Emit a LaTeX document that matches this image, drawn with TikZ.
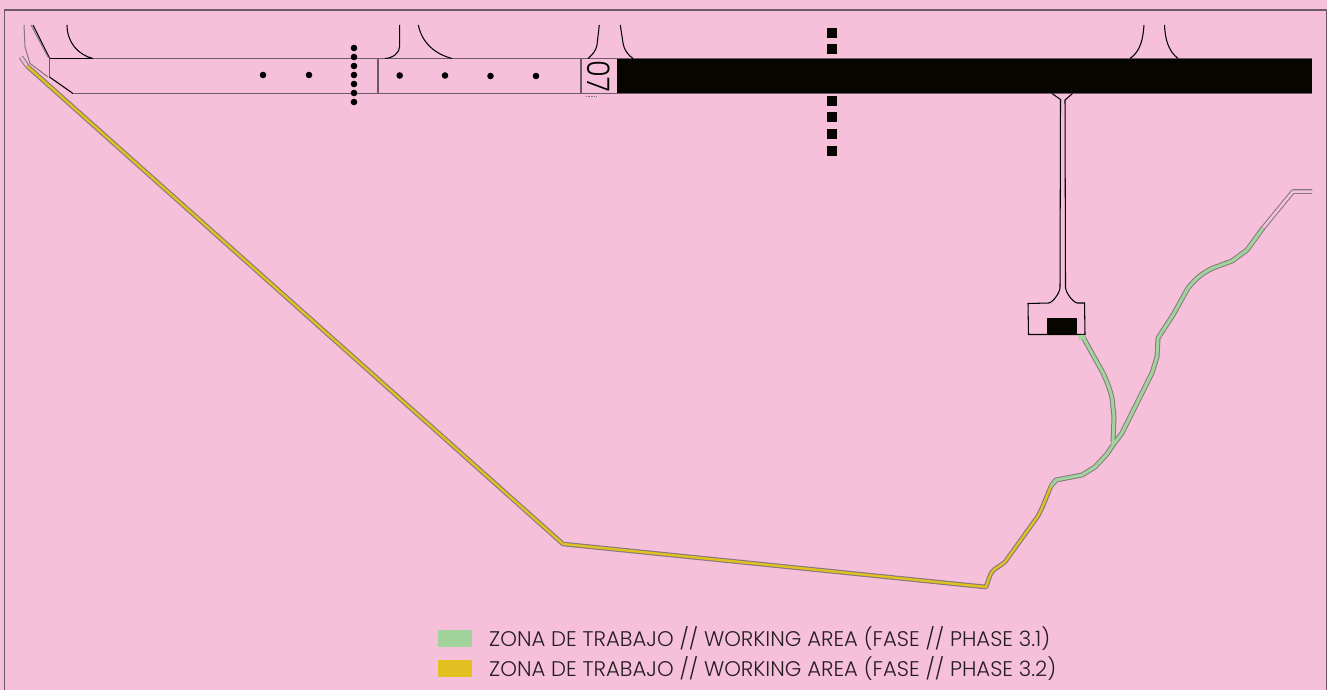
\documentclass[tikz,border=0pt]{standalone}
\usepackage{graphicx}
\usepackage{fontspec}
\setmainfont{Poppins Light}
\definecolor{bgpink}{HTML}{F7C0DA}
\definecolor{framec}{HTML}{6E5A66}
\definecolor{greenz}{HTML}{A3D39C}
\definecolor{yellowz}{HTML}{E3C022}
\definecolor{blackz}{HTML}{070500}
\definecolor{grayl}{HTML}{83797E}
\begin{document}
\begin{tikzpicture}[x=1pt,y=-1pt,
  thinline/.style={draw=black,line width=1.05pt},
  grayline/.style={draw=grayl,line width=1pt},
  edgeline/.style={draw=framec,line width=1.25pt},
  roadcasing/.style={draw=grayl,line width=4.6pt,line join=round},
  roadgreen/.style={draw=greenz,line width=3pt,line join=round},
  roadyellow/.style={draw=yellowz,line width=2.4pt,line join=round},
  roadgap/.style={draw=bgpink,line width=2.5pt,line join=round},
  lighta/.style={circle,fill=black,inner sep=0pt,minimum size=6.6pt},
  lightb/.style={rectangle,fill=blackz,inner sep=0pt,minimum size=10pt},
  legtext/.style={anchor=west,inner sep=0pt,text=black!85!bgpink,font=\fontsize{21.2pt}{22pt}\selectfont},
]
\useasboundingbox (0,0) rectangle (1327,690);
\fill[bgpink] (0,0) rectangle (1327,690);
\draw[edgeline] (4.7,691) -- (4.7,10) -- (1326.5,10) -- (1326.5,691);

% black runway
\fill[blackz] (617,58.5) rectangle (1312,93.5);
\draw[edgeline] (617,58.5) -- (1312,58.5);
\draw[edgeline] (617,93.5) -- (1312,93.5);
% runway outline
\draw[edgeline] (617,58.5) -- (49.5,58.5);
\draw[thinline] (49,58.5) -- (93,58.5);
\draw[draw=framec,line width=1.8pt] (49.5,58) -- (49.5,77);
\draw[thinline] (49.5,77) -- (73,93.5);
\draw[edgeline] (73,93.5) -- (617,93.5);
\draw[edgeline] (378,58.5) -- (378,93.5);
\draw[edgeline] (581,58.5) -- (581,93.5);
\node[rotate=-90,font=\fontsize{31pt}{31pt}\selectfont,inner sep=0pt,text=black] (rwy) at (599,76.3) {\scalebox{0.88}[1]{07}};
\draw[draw=grayl,line width=0.8pt,dash pattern=on 1pt off 0.6pt] (586,96) -- (597,96);

% shoulders top left
\draw[thinline] (33,25) -- (49.5,58);
\draw[grayline] (31,25) -- (48,57);
\draw[grayline] (24,25) -- (25,47) -- (30,63.5) -- (48,77);

% fillets
\draw[thinline] (67,25) .. controls (67,42) and (78,55) .. (93,58.5);
\draw[thinline] (399.7,25) -- (399.7,46) .. controls (399.7,53) and (393,58) .. (385,58.5);
\draw[thinline] (418.3,25) .. controls (422,43) and (435,54) .. (452,58.5);
\draw[thinline] (599.3,25) -- (597,45) .. controls (596,51) and (592,55) .. (588,58.5);
\draw[thinline] (620.3,25) -- (623,43) .. controls (624,50) and (628,55) .. (633,58.5);
\draw[thinline] (1144,25) .. controls (1143,38) and (1141,51) .. (1130,58.5);
\draw[thinline] (1164.5,25) .. controls (1165,38) and (1168,51) .. (1178,58.5);

% taxiway and apron
\draw[thinline] (1052,93.5) -- (1060.5,99.5) -- (1060,287) .. controls (1060,293) and (1053,302) .. (1049,303) -- (1028,303.5) -- (1028.5,334.5) -- (1085,334.5) -- (1084.5,303) -- (1077,303) .. controls (1073,302) and (1065.5,293) .. (1065.5,287) -- (1065,100) -- (1072.5,93.5);
\fill[blackz] (1047.3,318) rectangle (1076.5,334);

% lights
\foreach \n/\px/\py in {a/263/75,b/309/75,c/354/48,d/354/57,e/354/66,f/354/75,g/354/84,h/354/93,i/354/102,j/399.7/75.5,k/445/75.5,l/490.5/76,m/536/76}
  \node[lighta] (lamp\n) at (\px,\py) {};
\foreach \n/\py in {a/33,b/49.5,c/101,d/117.5,e/134,f/151}
  \node[lightb] (sq\n) at (831.7,\py) {};

% gray road ends
\draw[roadcasing] (1263,228) -- (1293,191.5) -- (1312,191.5);
\draw[roadgap] (1263,228) -- (1293,191.5) -- (1312,191.5);
\draw[roadcasing] (21,57) -- (27,66);
\draw[roadgap] (21,57) -- (27,66);

% road casing
\draw[roadcasing] (27,66) -- (563,544) -- (986,587) -- (989.5,577) .. controls (991,572) and (994,569) .. (998,567) -- (1005,562) -- (1038,516) -- (1042,508) -- (1051,486);
\draw[roadcasing,line width=5pt] (1051,486) -- (1056,480) -- (1082,475) -- (1095,467) -- (1107,454) -- (1113,445);
\draw[roadcasing,line width=5pt] (1081,337) -- (1083,337) -- (1103,373) .. controls (1108,384) and (1110,390) .. (1112,398) -- (1114,417) -- (1113,442);
\draw[roadcasing,line width=5pt] (1113,445) -- (1122,433) -- (1152,373) -- (1157,357) -- (1158,338) -- (1173,315) -- (1188,288) .. controls (1196,278) and (1204,272) .. (1213,268) -- (1232,261) -- (1247,250) -- (1263,228);
% fill
\draw[roadyellow] (27,66) -- (563,544) -- (986,587) -- (989.5,577) .. controls (991,572) and (994,569) .. (998,567) -- (1005,562) -- (1038,516) -- (1042,508) -- (1051,486);
\draw[roadgreen] (1051,486) -- (1056,480) -- (1082,475) -- (1095,467) -- (1107,454) -- (1113,445);
\draw[roadgreen] (1081,337) -- (1083,337) -- (1103,373) .. controls (1108,384) and (1110,390) .. (1112,398) -- (1114,417) -- (1113,442) -- (1113,445);
\draw[roadgreen] (1113,445) -- (1122,433) -- (1152,373) -- (1157,357) -- (1158,338) -- (1173,315) -- (1188,288) .. controls (1196,278) and (1204,272) .. (1213,268) -- (1232,261) -- (1247,250) -- (1263,228);
\fill[greenz] (1078,335) -- (1084.5,335) -- (1086,339) -- (1079,340) -- cycle;

% legend
\node[rectangle,fill=greenz,inner sep=0pt,minimum width=34pt,minimum height=17pt] (swgreen) at (455,638.5) {};
\node[rectangle,fill=yellowz,inner sep=0pt,minimum width=34pt,minimum height=17pt] (swyellow) at (455,668) {};
\node[legtext] (leggreen) at (489,638.5) {ZONA DE TRABAJO // WORKING AREA (FASE // PHASE 3.1)};
\node[legtext] (legyellow) at (489,668) {ZONA DE TRABAJO // WORKING AREA (FASE // PHASE 3.2)};
\end{tikzpicture}
\end{document}
